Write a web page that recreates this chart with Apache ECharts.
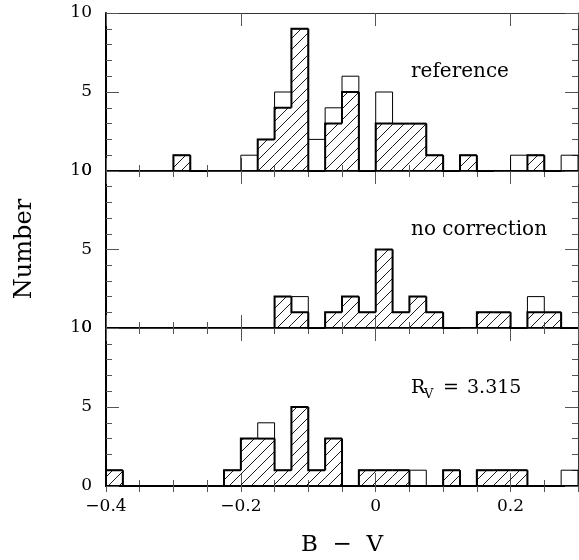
<!DOCTYPE html>
<html><head><meta charset="utf-8">
<script src="https://cdn.jsdelivr.net/npm/echarts/dist/echarts.min.js"></script>
<style>html,body{margin:0;padding:0;background:#fff}#c{width:579px;height:560px}</style>
</head><body><div id="c"></div>
<script>
// ---- data ----
const binStart = -0.4;
const binWidth = 0.025;
const xTickLabels = ['\u22120.4', '\u22120.2', '0', '0.2'];
const yTickLabels = ['0', '5', '10'];
const panelNames = ['reference', 'no correction', 'R_V = 3.315'];
const xTitle = 'B  \u2212  V';
const yTitle = 'Number';

const refOpen    = [0,0,0,0,1,0,0,0,1,2,5,9,2,4,6,0,5,3,3,1,0,1,0,0,1,1,0,1];
const refHatch   = [0,0,0,0,1,0,0,0,0,2,4,9,0,3,5,0,3,3,3,1,0,1,0,0,0,1,0,0];
const noCorrOpen = [0,0,0,0,0,0,0,0,0,0,2,2,0,1,2,1,5,1,2,1,0,0,1,1,0,2,1,0];
const noCorrHatch= [0,0,0,0,0,0,0,0,0,0,2,1,0,1,2,1,5,1,2,1,0,0,1,1,0,1,1,0];
const rvOpen     = [1,0,0,0,0,0,0,1,3,4,1,5,1,3,0,1,1,1,1,0,1,0,1,1,1,0,0,1];
const rvHatch    = [1,0,0,0,0,0,0,1,3,3,1,5,1,3,0,1,1,1,0,0,1,0,1,1,1,0,0,0];

const panels = [
  {open: refOpen, hatch: refHatch},
  {open: noCorrOpen, hatch: noCorrHatch},
  {open: rvOpen, hatch: rvHatch}
];

// ---- helpers ----
const FONT = '"DejaVu Serif", "Liberation Serif", serif';
function makeHatch() {
  const s = 11, c = document.createElement('canvas');
  c.width = s; c.height = s;
  const ctx = c.getContext('2d');
  ctx.strokeStyle = '#000'; ctx.lineWidth = 0.9;
  ctx.beginPath();
  ctx.moveTo(-1, s + 1); ctx.lineTo(s + 1, -1);
  ctx.moveTo(-s / 2 - 1, s / 2 + 1); ctx.lineTo(s / 2 + 1, -s / 2 - 1);
  ctx.moveTo(s / 2 - 1, s * 1.5 + 1); ctx.lineTo(s * 1.5 + 1, s / 2 - 1);
  ctx.stroke();
  return c;
}
const hatchPattern = {image: makeHatch(), repeat: 'repeat'};

function toItems(arr) {
  return arr.map((h, i) => [binStart + i * binWidth, binStart + (i + 1) * binWidth, h,
    i === 0 ? 0 : arr[i - 1], i === arr.length - 1 ? 1 : 0]);
}

function renderFill(params, api) {
  const h = api.value(2);
  if (!h) return null;
  const p0 = api.coord([api.value(0), h]);
  const p1 = api.coord([api.value(1), 0]);
  return {type: 'rect', shape: {x: p0[0], y: p0[1], width: p1[0] - p0[0], height: p1[1] - p0[1]},
    style: {fill: hatchPattern, stroke: null}};
}
function makeStep(width) {
  return function (params, api) {
    const x0 = api.value(0), x1 = api.value(1), h = api.value(2), hp = api.value(3), last = api.value(4);
    if (!h && !hp) return null;
    const pts = [api.coord([x0, hp]), api.coord([x0, h]), api.coord([x1, h])];
    if (last && h) pts.push(api.coord([x1, 0]));
    return {type: 'polyline', shape: {points: pts},
      style: {stroke: '#000', lineWidth: width, fill: null, lineJoin: 'miter'}};
  };
}

const grids = [{top: 13, height: 158}, {top: 171, height: 157}, {top: 328, height: 158}];
const xAxes = [], yAxes = [], series = [];
const tickStyle = {color: '#555', width: 1};

grids.forEach((g, gi) => {
  const base = {gridIndex: gi, type: 'value', min: -0.4, max: 0.3, splitLine: {show: false}};
  const xMain = xAxes.length;
  xAxes.push(Object.assign({}, base, {position: 'bottom', interval: 0.2,
    axisLine: {show: true, onZero: false, lineStyle: {color: '#000', width: 2}},
    axisTick: {show: true, inside: true, length: 13, lineStyle: tickStyle},
    axisLabel: gi === 2 ? {show: true, fontFamily: FONT, fontSize: 17, color: '#000', margin: 12,
      showMaxLabel: false,
      formatter: v => {
        const i = Math.round((v - binStart) / 0.2);
        return (Math.abs(v - (binStart + i * 0.2)) < 1e-6 && i < xTickLabels.length) ? xTickLabels[i] : '';
      }} : {show: false}}));
  xAxes.push(Object.assign({}, base, {position: 'bottom', interval: 0.05,
    axisLine: {show: false}, axisTick: {show: true, inside: true, length: 6, lineStyle: tickStyle},
    axisLabel: {show: false}}));
  xAxes.push(Object.assign({}, base, {position: 'top', interval: 0.2,
    axisLine: {show: true, onZero: false, lineStyle: {color: '#333', width: 1}},
    axisTick: {show: true, inside: true, length: 13, lineStyle: tickStyle},
    axisLabel: {show: false}}));
  xAxes.push(Object.assign({}, base, {position: 'top', interval: 0.05,
    axisLine: {show: false}, axisTick: {show: true, inside: true, length: 6, lineStyle: tickStyle},
    axisLabel: {show: false}}));

  const yMain = yAxes.length;
  const ybase = {gridIndex: gi, type: 'value', min: 0, max: 10, interval: 5, splitLine: {show: false},
    axisTick: {show: true, inside: true, length: 13, lineStyle: tickStyle},
    minorTick: {show: true, splitNumber: 5, length: 6, lineStyle: tickStyle}};
  yAxes.push(Object.assign({}, ybase, {position: 'left',
    axisLine: {show: true, onZero: false, lineStyle: {color: '#000', width: 2}},
    axisLabel: {show: true, fontFamily: FONT, fontSize: 17, color: '#000', margin: 14,
      formatter: v => yTickLabels[Math.round(v / 5)]}}));
  yAxes.push(Object.assign({}, ybase, {position: 'right',
    axisLine: {show: true, onZero: false, lineStyle: {color: '#333', width: 1}},
    axisLabel: {show: false}}));

  const p = panels[gi];
  const common = {type: 'custom', coordinateSystem: 'cartesian2d', xAxisIndex: xMain, yAxisIndex: yMain,
    encode: {x: [0, 1], y: 2}, silent: true};
  series.push(Object.assign({}, common, {renderItem: renderFill, data: toItems(p.hatch)}));
  series.push(Object.assign({}, common, {renderItem: makeStep(1), data: toItems(p.open)}));
  series.push(Object.assign({}, common, {renderItem: makeStep(2), data: toItems(p.hatch)}));
});

const txt = (x, y, text, size, extra) => Object.assign({type: 'text', x: x, y: y, silent: true,
  style: {text: text, font: size + 'px ' + FONT, fill: '#000', align: 'left', verticalAlign: 'middle'}}, extra || {});

const rv = panelNames[2].split(' = ');
const graphic = [
  txt(25, 249, yTitle, 24, {rotation: Math.PI / 2, style: {text: yTitle, font: '24px ' + FONT, fill: '#000', align: 'center', verticalAlign: 'middle'}}),
  txt(342, 545, xTitle, 23, {style: {text: xTitle, font: '23px ' + FONT, fill: '#000', align: 'center', verticalAlign: 'middle'}}),
  txt(411, 72, panelNames[0], 20),
  txt(411, 230, panelNames[1], 20),
  txt(411, 388, rv[0].split('_')[0], 19),
  txt(424, 395, rv[0].split('_')[1], 13),
  txt(443, 388, '=', 19),
  txt(467, 388, rv[1], 19)
];

const chart = echarts.init(document.getElementById('c'), null, {renderer: 'canvas'});
chart.setOption({
  animation: false,
  backgroundColor: '#fff',
  grid: grids.map(g => ({left: 106, width: 472, top: g.top, height: g.height, containLabel: false, outerBoundsMode: 'none'})),
  xAxis: xAxes,
  yAxis: yAxes,
  series: series,
  graphic: graphic
});
</script>
</body></html>
